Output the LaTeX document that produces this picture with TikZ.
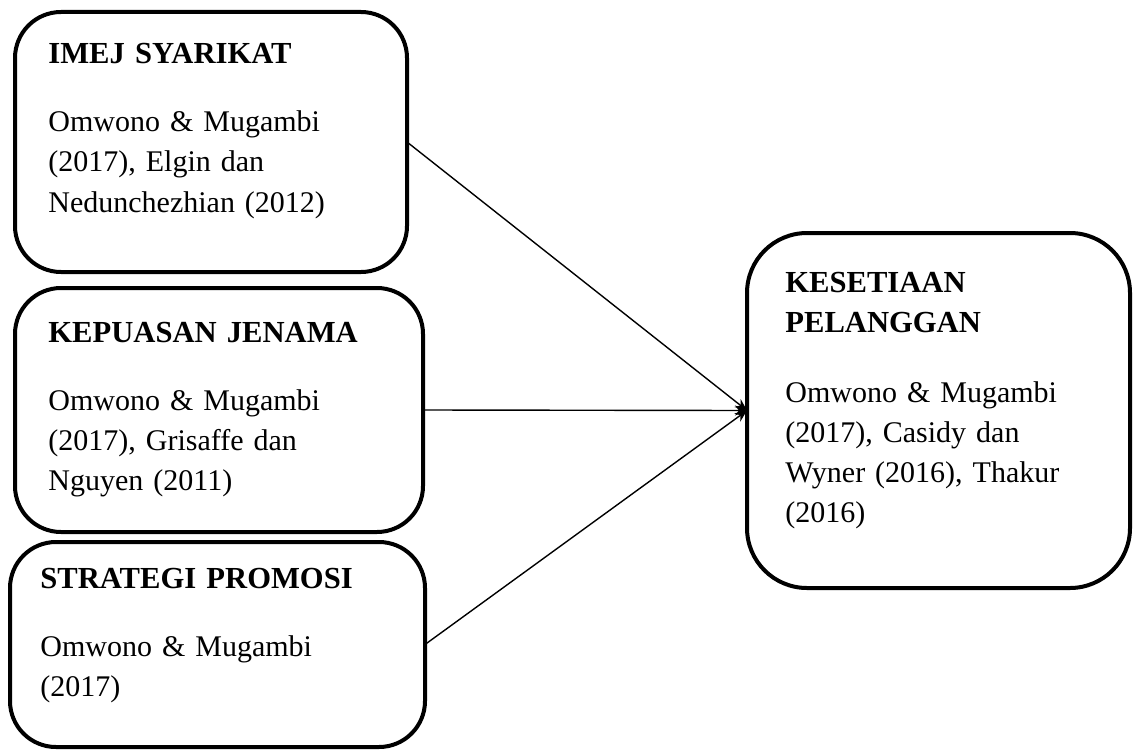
\documentclass[tikz,border=0pt]{standalone}
\usepackage{fontspec}
\setmainfont{Liberation Serif}
\usetikzlibrary{arrows.meta}
\begin{document}
\begin{tikzpicture}[x=0.5pt,y=-0.5pt]
\tikzset{
 box/.style={draw, line width=2pt, rounded corners=23pt, inner sep=0pt, outer sep=0pt, anchor=north west},
 txt/.style={anchor=base west, inner sep=0pt, align=left, text width=190pt, font=\fontsize{15}{20}\selectfont},
 hd/.style={txt, font=\fontsize{15.3}{20}\selectfont\bfseries},
 link/.style={line width=0.7pt, -{Stealth[length=6pt,width=5pt]}}
}
\useasboundingbox (0,0) rectangle (1134,749);
\node[box, minimum width=196pt, minimum height=130pt] (b1) at (15,12) {};
\node[box, minimum width=204pt, minimum height=122pt] (b2) at (15,288) {};
\node[box, minimum width=207.5pt, minimum height=102.5pt] (b3) at (10,542) {};
\node[box, rounded corners=30pt, minimum width=191.5pt, minimum height=177.5pt] (b4) at (747,233) {};

\node[hd] (h1) at (48,64) {IMEJ SYARIKAT};
\node[txt] (t1) at (48,132) {Omwono \& Mugambi\\(2017), Elgin dan\\Nedunchezhian (2012)};
\node[hd] (h2) at (48,342) {KEPUASAN JENAMA};
\node[txt] (t2) at (48,410) {Omwono \& Mugambi\\(2017), Grisaffe dan\\Nguyen (2011)};
\node[hd] (h3) at (40,588) {STRATEGI PROMOSI};
\node[txt] (t3) at (40,656) {Omwono \& Mugambi\\(2017)};
\node[hd] (h4) at (785,292) {KESETIAAN\\PELANGGAN};
\node[txt] (t4) at (785,402) {Omwono \& Mugambi\\(2017), Casidy dan\\Wyner (2016), Thakur\\(2016)};

\draw[link] (b1.east) -- (b4.west);
\draw[link] (b2.east) -- (b4.west);
\draw[link] (b3.east) -- (b4.west);
\end{tikzpicture}
\end{document}
